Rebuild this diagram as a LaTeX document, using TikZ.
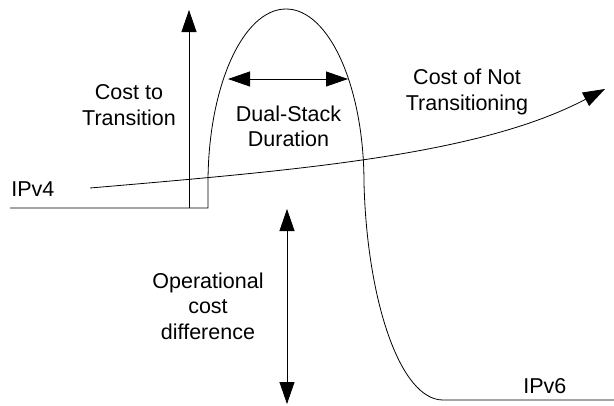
\documentclass[tikz,border=0pt]{standalone}
\usepackage{fontspec}
\setmainfont{Liberation Sans}
\usetikzlibrary{arrows.meta}
\begin{document}
\begin{tikzpicture}[x=1pt,y=-1pt,
  line width=0.8pt,
  lbl/.style={inner sep=0pt, align=center, font=\fontsize{21.5}{25.5}\selectfont},
  bigtip/.style={-{Triangle[length=22pt,width=15pt]}},
  bigtips/.style={{Triangle[length=22pt,width=15pt]}-{Triangle[length=22pt,width=15pt]}}]
\useasboundingbox (0,0) rectangle (614,405);

% main cost curve
\coordinate (start) at (10,208);
\coordinate (step) at (208,208);
\coordinate (archL) at (208,183);
\coordinate (archTop) at (286,9);
\coordinate (archR) at (364,183);
\coordinate (low) at (443,400);
\coordinate (finish) at (614,400);
\draw (start) -- (step) -- (archL)
  .. controls (208,86.9) and (242.9,9) .. (archTop)
  .. controls (329.1,9) and (364,86.9) .. (archR)
  .. controls (367,300) and (400,400) .. (low) -- (finish);

% cost of not transitioning
\coordinate (ntS) at (90,188);
\coordinate (ntE) at (605,89);
\draw[bigtip] (ntS) .. controls (300,170) and (480,155) .. (ntE);

% cost to transition
\coordinate (ctB) at (189,208);
\coordinate (ctT) at (189,10);
\draw[bigtip] (ctB) -- (ctT);

% dual-stack duration
\coordinate (dsL) at (228,79);
\coordinate (dsR) at (348,79);
\draw[bigtips] (dsL) -- (dsR);

% operational cost difference
\coordinate (ocT) at (287,209);
\coordinate (ocB) at (287,404);
\draw[bigtips] (ocT) -- (ocB);

\node[lbl] (costtr) at (129,105.2) {Cost to\\Transition};
\node[lbl] (dual) at (288.5,126.5) {Dual-Stack\\Duration};
\node[lbl] (notr) at (467,92) {Cost of Not\\Transitioning};
\node[lbl] (opc) at (208,306) {Operational\\cost\\difference};
\node[lbl, anchor=base west] (v4) at (11,196.7) {IPv4};
\node[lbl, anchor=base west] (v6) at (523,393.3) {IPv6};
\end{tikzpicture}
\end{document}
